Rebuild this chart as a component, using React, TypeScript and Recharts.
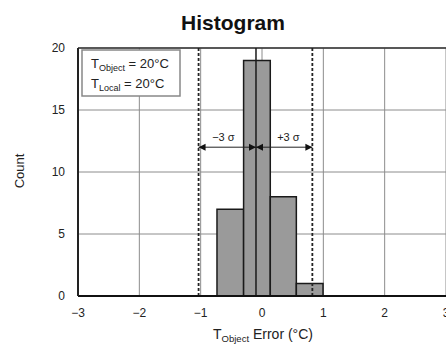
import React from 'react';
import {
  ComposedChart,
  XAxis,
  YAxis,
  CartesianGrid,
  ReferenceArea,
  ReferenceLine,
  ReferenceDot,
} from 'recharts';

const binStarts = [-0.734, -0.3, 0.135, 0.56];
const binEnds = [-0.3, 0.135, 0.56, 0.995];
const counts = [7, 19, 8, 1];
const xTicks = [-3, -2, -1, 0, 1, 2, 3];
const yTicks = [0, 5, 10, 15, 20];
const meanValue = -0.098;
const minus3Sigma = -1.034;
const plus3Sigma = 0.821;
const arrowLevel = 12;
const sigmaLabelLevel = 12.75;
const sigmaLabels = ['\u22123 \u03c3', '+3 \u03c3'];
const sigmaLabelX = [-0.63, 0.43];

const FONT = '"Liberation Sans", Arial, Helvetica, sans-serif';

const fmt = (v: number) => (v < 0 ? '\u2212' + Math.abs(v) : String(v));

const arrowLeft = (p: any) => (
  <path
    d={`M${p.cx},${p.cy} L${p.cx + 7},${p.cy - 3.5} L${p.cx + 7},${p.cy + 3.5} Z`}
    fill="#111"
  />
);
const arrowRight = (p: any) => (
  <path
    d={`M${p.cx},${p.cy} L${p.cx - 7},${p.cy - 3.5} L${p.cx - 7},${p.cy + 3.5} Z`}
    fill="#111"
  />
);
const textShape = (label: string) => (p: any) => (
  <text
    x={p.cx}
    y={p.cy}
    textAnchor="middle"
    dominantBaseline="middle"
    fontFamily={FONT}
    fontSize={11}
    fill="#222"
  >
    {label}
  </text>
);

const chartData = xTicks.map((x, i) => ({ x, y: yTicks[Math.min(i, yTicks.length - 1)] }));

export default function App() {
  return (
    <div
      style={{
        position: 'absolute',
        left: 0,
        top: 0,
        width: 446,
        height: 345,
        overflow: 'hidden',
        background: '#fff',
      }}
    >
      <ComposedChart
        width={446}
        height={345}
        data={chartData}
        margin={{ top: 48, right: 0, bottom: 19, left: 0 }}
      >
        <CartesianGrid stroke="#8c8c8c" strokeWidth={1} />
        <XAxis
          dataKey="x"
          type="number"
          domain={[-3, 3]}
          ticks={xTicks}
          tickFormatter={fmt}
          tickLine={false}
          tickSize={0}
          tickMargin={12}
          height={30}
          axisLine={{ stroke: '#111', strokeWidth: 2 }}
          tick={{ fontFamily: FONT, fontSize: 12, fill: '#222' }}
          interval={0}
          allowDataOverflow
        />
        <YAxis
          dataKey="y"
          type="number"
          domain={[0, 20]}
          ticks={yTicks}
          width={78}
          tickLine={false}
          tickSize={0}
          tickMargin={13}
          axisLine={{ stroke: '#222', strokeWidth: 2 }}
          tick={{ fontFamily: FONT, fontSize: 12, fill: '#222' }}
          interval={0}
          allowDataOverflow
        />
        <ReferenceLine y={20} stroke="#333" strokeWidth={1.5} />
        {counts.map((c, i) => (
          <ReferenceArea
            key={i}
            x1={binStarts[i]}
            x2={binEnds[i]}
            y1={0}
            y2={c}
            fill="#9a9a9a"
            fillOpacity={1}
            stroke="#1a1a1a"
            strokeWidth={1.5}
          />
        ))}
        <ReferenceLine x={meanValue} stroke="#1a1a1a" strokeWidth={1.5} />
        <ReferenceLine
          x={minus3Sigma}
          stroke="#222"
          strokeWidth={1.8}
          strokeDasharray="3 2"
        />
        <ReferenceLine
          x={plus3Sigma}
          stroke="#222"
          strokeWidth={1.8}
          strokeDasharray="3 2"
        />
        <ReferenceLine
          segment={[
            { x: minus3Sigma, y: arrowLevel },
            { x: meanValue, y: arrowLevel },
          ]}
          stroke="#222"
          strokeWidth={1}
        />
        <ReferenceLine
          segment={[
            { x: meanValue, y: arrowLevel },
            { x: plus3Sigma, y: arrowLevel },
          ]}
          stroke="#222"
          strokeWidth={1}
        />
        <ReferenceDot x={minus3Sigma} y={arrowLevel} r={0} shape={arrowLeft} />
        <ReferenceDot x={meanValue} y={arrowLevel} r={0} shape={arrowRight} />
        <ReferenceDot x={meanValue} y={arrowLevel} r={0} shape={arrowLeft} />
        <ReferenceDot x={plus3Sigma} y={arrowLevel} r={0} shape={arrowRight} />
        {sigmaLabels.map((s, i) => (
          <ReferenceDot
            key={s}
            x={sigmaLabelX[i]}
            y={sigmaLabelLevel}
            r={0}
            shape={textShape(s)}
          />
        ))}
      </ComposedChart>
      <svg
        width={446}
        height={345}
        style={{ position: 'absolute', left: 0, top: 0, pointerEvents: 'none' }}
      >
        <text
          x={233}
          y={30}
          textAnchor="middle"
          fontFamily={FONT}
          fontWeight="bold"
          fontSize={21}
          fill="#111"
        >
          Histogram
        </text>
        <text
          x={0}
          y={0}
          transform="translate(24,171) rotate(-90)"
          textAnchor="middle"
          fontFamily={FONT}
          fontSize={13}
          fill="#222"
        >
          Count
        </text>
        <text
          x={263}
          y={339}
          textAnchor="middle"
          fontFamily={FONT}
          fontSize={14}
          fill="#222"
        >
          T
          <tspan fontSize={9.5} dy={3}>
            Object
          </tspan>
          <tspan dy={-3}> Error (°C)</tspan>
        </text>
        <rect
          x={82}
          y={50}
          width={98}
          height={46}
          fill="#fff"
          stroke="#888"
          strokeWidth={1.5}
        />
        <text x={91} y={68} fontFamily={FONT} fontSize={13} fill="#222">
          T
          <tspan fontSize={9} dy={3}>
            Object
          </tspan>
          <tspan dy={-3}> = 20°C</tspan>
        </text>
        <text x={91} y={88} fontFamily={FONT} fontSize={13} fill="#222">
          T
          <tspan fontSize={9} dy={3}>
            Local
          </tspan>
          <tspan dy={-3}> = 20°C</tspan>
        </text>
      </svg>
    </div>
  );
}
